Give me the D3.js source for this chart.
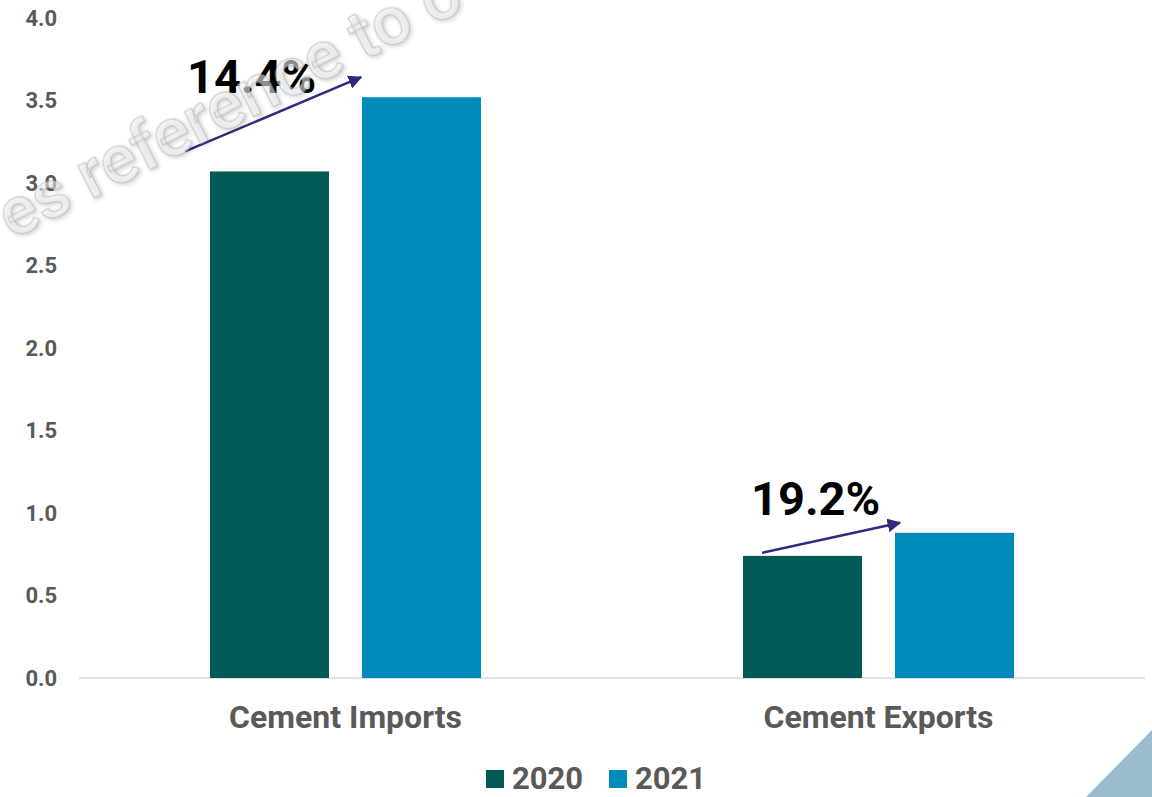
<!DOCTYPE html>
<html>
<head>
<meta charset="utf-8">
<script src="https://cdn.jsdelivr.net/npm/d3@7"></script>
<style>
  html, body { margin: 0; padding: 0; background: #fff; }
  svg { display: block; font-family: Roboto, "Noto Sans", sans-serif; }
</style>
</head>
<body>
<div id="chart"></div>
<script>
// data
const categories = ['Cement Imports', 'Cement Exports'];
const seriesNames = ['2020', '2021'];
const values2020 = [3.07, 0.74];
const values2021 = [3.52, 0.88];
const changeLabels = ['14.4%', '19.2%'];
const yTicks = [0, 0.5, 1, 1.5, 2, 2.5, 3, 3.5, 4];
const colors = ['#005a56', '#008bba'];

const width = 1152, height = 797;
const plot = { left: 79, right: 1145, top: 18, bottom: 678 };

const svg = d3.select('#chart').append('svg')
  .attr('width', width)
  .attr('height', height);

// corner decoration
svg.append('path')
  .attr('d', `M1086,${height} L${width},730 L${width},${height} Z`)
  .attr('fill', '#9bbccd');

// scales
const x0 = d3.scaleBand()
  .domain(categories)
  .range([plot.left, plot.right])
  .paddingInner(0.4916)
  .paddingOuter(0.2458);

const x1 = d3.scaleBand()
  .domain(seriesNames)
  .range([0, x0.bandwidth()])
  .paddingInner(0.217);

const y = d3.scaleLinear()
  .domain([0, 4])
  .range([plot.bottom, plot.top]);

// y axis labels (no line, no ticks)
const yAxis = svg.append('g')
  .attr('transform', `translate(${plot.left - 8},0)`)
  .call(d3.axisLeft(y).tickValues(yTicks).tickFormat(d3.format('.1f')).tickSize(0).tickPadding(14));
yAxis.select('.domain').remove();
yAxis.selectAll('text')
  .attr('fill', '#595959')
  .style('font-size', '22px')
  .style('font-weight', 700)
  .style('font-family', 'Roboto, sans-serif');

// baseline
svg.append('line')
  .attr('x1', plot.left).attr('x2', plot.right)
  .attr('y1', y(0)).attr('y2', y(0))
  .attr('stroke', '#d9d9d9')
  .attr('stroke-width', 1.5);

// bars
const rows = categories.map((c, i) => ({ cat: c, vals: [values2020[i], values2021[i]] }));
const groups = svg.append('g')
  .selectAll('g')
  .data(rows)
  .join('g')
  .attr('transform', d => `translate(${x0(d.cat)},0)`);

groups.selectAll('rect')
  .data(d => d.vals.map((v, j) => ({ key: seriesNames[j], v, j })))
  .join('rect')
  .attr('x', d => x1(d.key))
  .attr('width', x1.bandwidth())
  .attr('y', d => y(d.v))
  .attr('height', d => y(0) - y(d.v))
  .attr('fill', d => colors[d.j]);

// category labels
const xAxis = svg.append('g')
  .attr('transform', `translate(0,${y(0)})`)
  .call(d3.axisBottom(x0).tickSize(0).tickPadding(27));
xAxis.select('.domain').remove();
xAxis.selectAll('text')
  .attr('fill', '#595959')
  .style('font-size', '32px')
  .style('font-weight', 700)
  .style('font-family', 'Roboto, sans-serif');

// growth arrows + labels
svg.append('defs').append('marker')
  .attr('id', 'arrowhead')
  .attr('viewBox', '0 0 10 10')
  .attr('refX', 9).attr('refY', 5)
  .attr('markerWidth', 5.5).attr('markerHeight', 5.5)
  .attr('markerUnits', 'strokeWidth')
  .attr('orient', 'auto')
  .append('path')
  .attr('d', 'M0,0 L10,5 L0,10 Z')
  .attr('fill', '#2e2a7e');

// offsets (px) of arrow ends relative to the bars
const arrowFrom = [[-25, -20], [19, -3]];
const arrowTo = [[1, -21], [7, -11]];
const labelPos = [[-23, -78], [8, -41]];

rows.forEach((r, i) => {
  const bx0 = x0(r.cat) + x1('2020');
  const bx1 = x0(r.cat) + x1('2021');
  const xa = bx0 + arrowFrom[i][0], ya = y(r.vals[0]) + arrowFrom[i][1];
  const xb = bx1 + arrowTo[i][0], yb = y(r.vals[1]) + arrowTo[i][1];
  svg.append('line')
    .attr('x1', xa).attr('y1', ya)
    .attr('x2', xb - 2).attr('y2', yb + 1)
    .attr('stroke', '#2e2a7e')
    .attr('stroke-width', 2.5)
    .attr('marker-end', 'url(#arrowhead)');
  svg.append('text')
    .attr('x', bx0 + labelPos[i][0])
    .attr('y', y(r.vals[0]) + labelPos[i][1])
    .attr('fill', '#000')
    .style('font-size', '47px')
    .style('font-weight', 700)
    .text(changeLabels[i]);
});

// legend
const legend = svg.append('g').attr('transform', 'translate(486,778)');
const legendX = [0, 123];
seriesNames.forEach((s, i) => {
  const g = legend.append('g').attr('transform', `translate(${legendX[i]},0)`);
  g.append('rect')
    .attr('x', 0).attr('y', -8)
    .attr('width', 18).attr('height', 18)
    .attr('fill', colors[i]);
  g.append('text')
    .attr('x', 26).attr('y', 0)
    .attr('dy', '0.36em')
    .attr('fill', '#595959')
    .style('font-size', '31px')
    .style('font-weight', 700)
    .text(s);
});

// faint embossed watermark crossing the top-left (see-through)
svg.append('text')
  .attr('transform', 'translate(12,240) rotate(-27)')
  .attr('fill', '#ffffff')
  .attr('fill-opacity', 0.55)
  .attr('stroke', '#a8a8a8')
  .attr('stroke-opacity', 0.6)
  .attr('stroke-width', 1)
  .style('font-size', '68px')
  .style('font-weight', 500)
  .style('filter', 'drop-shadow(1.5px 2.5px 2px rgba(0,0,0,0.3))')
  .text('es reference to o');
</script>
</body>
</html>
